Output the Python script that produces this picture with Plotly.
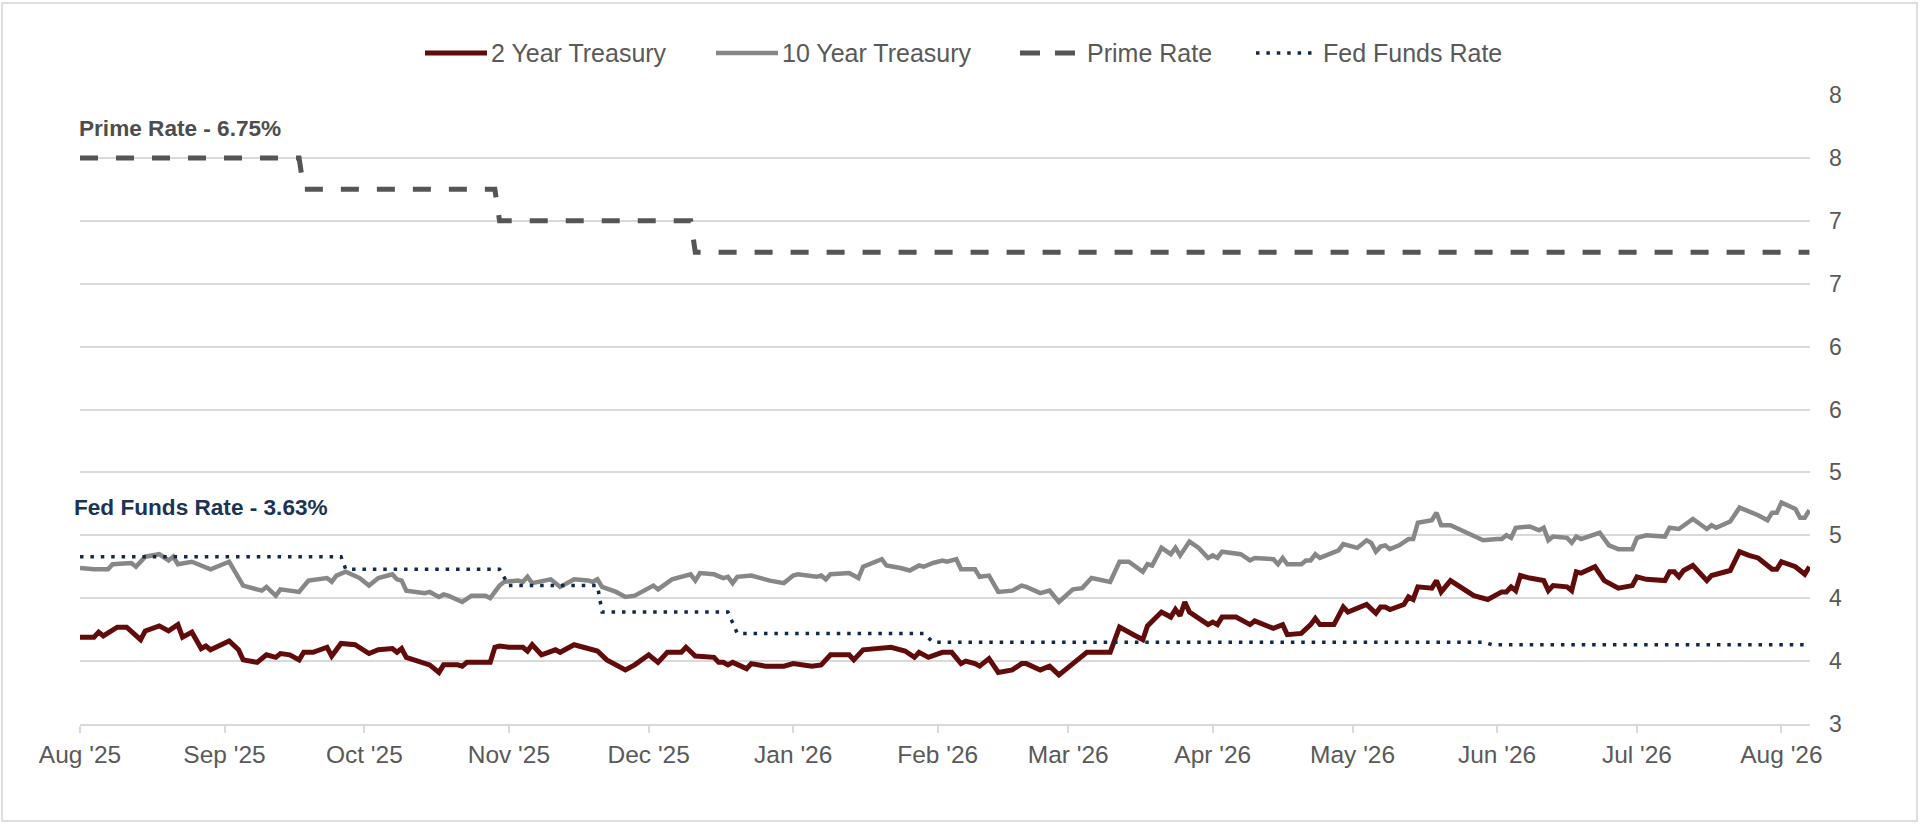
import plotly.graph_objects as go

# ---- data ----
two_year_dates = [
    "2025-08-01", "2025-08-04", "2025-08-05", "2025-08-06", "2025-08-09", "2025-08-11", "2025-08-14",
    "2025-08-15", "2025-08-18", "2025-08-20", "2025-08-22", "2025-08-23", "2025-08-25", "2025-08-27",
    "2025-08-28", "2025-08-29", "2025-09-02", "2025-09-04", "2025-09-05", "2025-09-08", "2025-09-10",
    "2025-09-12", "2025-09-13", "2025-09-15", "2025-09-17", "2025-09-18", "2025-09-20", "2025-09-23",
    "2025-09-24", "2025-09-26", "2025-09-29", "2025-10-02", "2025-10-04", "2025-10-07", "2025-10-08",
    "2025-10-09", "2025-10-10", "2025-10-15", "2025-10-17", "2025-10-18", "2025-10-21", "2025-10-22",
    "2025-10-23", "2025-10-28", "2025-10-29", "2025-10-30", "2025-11-01", "2025-11-04", "2025-11-05",
    "2025-11-06", "2025-11-08", "2025-11-11", "2025-11-12", "2025-11-15", "2025-11-17", "2025-11-20",
    "2025-11-22", "2025-11-24", "2025-11-26", "2025-11-28", "2025-12-01", "2025-12-03", "2025-12-05",
    "2025-12-08", "2025-12-09", "2025-12-11", "2025-12-15", "2025-12-16", "2025-12-17", "2025-12-18",
    "2025-12-19", "2025-12-22", "2025-12-23", "2025-12-26", "2025-12-30", "2026-01-01", "2026-01-04",
    "2026-01-05", "2026-01-07", "2026-01-09", "2026-01-13", "2026-01-14", "2026-01-16", "2026-01-22",
    "2026-01-25", "2026-01-27", "2026-01-28", "2026-01-30", "2026-02-02", "2026-02-03", "2026-02-04",
    "2026-02-06", "2026-02-07", "2026-02-09", "2026-02-10", "2026-02-12", "2026-02-14", "2026-02-17",
    "2026-02-19", "2026-02-20", "2026-02-23", "2026-02-25", "2026-02-27", "2026-03-02", "2026-03-05",
    "2026-03-10", "2026-03-12", "2026-03-15", "2026-03-17", "2026-03-18", "2026-03-21", "2026-03-23",
    "2026-03-24", "2026-03-25", "2026-03-26", "2026-03-27", "2026-03-31", "2026-04-01", "2026-04-02",
    "2026-04-03", "2026-04-06", "2026-04-09", "2026-04-10", "2026-04-14", "2026-04-16", "2026-04-17",
    "2026-04-20", "2026-04-22", "2026-04-23", "2026-04-24", "2026-04-27", "2026-04-29", "2026-04-30",
    "2026-05-04", "2026-05-06", "2026-05-07", "2026-05-08", "2026-05-09", "2026-05-12", "2026-05-13",
    "2026-05-14", "2026-05-15", "2026-05-18", "2026-05-19", "2026-05-20", "2026-05-22", "2026-05-27",
    "2026-05-30", "2026-06-02", "2026-06-03", "2026-06-04", "2026-06-05", "2026-06-06", "2026-06-08",
    "2026-06-10", "2026-06-11", "2026-06-12", "2026-06-13", "2026-06-16", "2026-06-17", "2026-06-18",
    "2026-06-19", "2026-06-22", "2026-06-24", "2026-06-27", "2026-06-30", "2026-07-01", "2026-07-03",
    "2026-07-07", "2026-07-08", "2026-07-09", "2026-07-10", "2026-07-11", "2026-07-13", "2026-07-16",
    "2026-07-17", "2026-07-21", "2026-07-23", "2026-07-25", "2026-07-27", "2026-07-30", "2026-07-31",
    "2026-08-01", "2026-08-04", "2026-08-06", "2026-08-07",
]
two_year_rates = [
    3.69, 3.69, 3.73, 3.70, 3.77, 3.77, 3.67,
    3.74, 3.78, 3.74, 3.79, 3.69, 3.73, 3.60,
    3.62, 3.59, 3.66, 3.59, 3.51, 3.49, 3.55,
    3.53, 3.56, 3.55, 3.51, 3.57, 3.57, 3.61,
    3.54, 3.64, 3.63, 3.56, 3.59, 3.60, 3.57,
    3.60, 3.53, 3.47, 3.41, 3.47, 3.47, 3.46,
    3.49, 3.49, 3.61, 3.62, 3.61, 3.61, 3.58,
    3.63, 3.55, 3.59, 3.57, 3.63, 3.61, 3.58,
    3.51, 3.47, 3.43, 3.47, 3.55, 3.49, 3.57,
    3.57, 3.61, 3.54, 3.53, 3.49, 3.49, 3.47,
    3.49, 3.44, 3.48, 3.46, 3.46, 3.48, 3.47,
    3.46, 3.47, 3.55, 3.55, 3.51, 3.59, 3.61,
    3.58, 3.53, 3.57, 3.53, 3.57, 3.57, 3.57,
    3.48, 3.50, 3.48, 3.46, 3.52, 3.41, 3.43,
    3.48, 3.48, 3.43, 3.46, 3.39, 3.48, 3.57,
    3.57, 3.77, 3.71, 3.67, 3.78, 3.89, 3.85,
    3.91, 3.86, 3.97, 3.89, 3.79, 3.81, 3.79,
    3.85, 3.85, 3.79, 3.82, 3.76, 3.79, 3.71,
    3.72, 3.79, 3.84, 3.79, 3.79, 3.93, 3.89,
    3.95, 3.88, 3.93, 3.93, 3.91, 3.95, 4.01,
    3.99, 4.09, 4.08, 4.14, 4.05, 4.14, 4.02,
    3.99, 4.05, 4.05, 4.09, 4.06, 4.18, 4.16,
    4.14, 4.14, 4.06, 4.10, 4.09, 4.06, 4.21,
    4.20, 4.25, 4.14, 4.08, 4.10, 4.17, 4.15,
    4.14, 4.21, 4.21, 4.17, 4.22, 4.26, 4.14,
    4.18, 4.22, 4.37, 4.34, 4.32, 4.23, 4.23,
    4.29, 4.25, 4.19, 4.25,
]

ten_year_dates = [
    "2025-08-01", "2025-08-04", "2025-08-07", "2025-08-08", "2025-08-12", "2025-08-13", "2025-08-15",
    "2025-08-18", "2025-08-20", "2025-08-21", "2025-08-22", "2025-08-25", "2025-08-29", "2025-09-02",
    "2025-09-05", "2025-09-09", "2025-09-10", "2025-09-12", "2025-09-13", "2025-09-16", "2025-09-17",
    "2025-09-19", "2025-09-23", "2025-09-24", "2025-09-25", "2025-09-27", "2025-09-29", "2025-09-30",
    "2025-10-02", "2025-10-04", "2025-10-07", "2025-10-08", "2025-10-09", "2025-10-10", "2025-10-14",
    "2025-10-15", "2025-10-17", "2025-10-18", "2025-10-19", "2025-10-22", "2025-10-24", "2025-10-27",
    "2025-10-28", "2025-10-30", "2025-10-31", "2025-11-03", "2025-11-04", "2025-11-05", "2025-11-06",
    "2025-11-10", "2025-11-12", "2025-11-15", "2025-11-18", "2025-11-19", "2025-11-20", "2025-11-21",
    "2025-11-24", "2025-11-26", "2025-11-28", "2025-11-30", "2025-12-02", "2025-12-03", "2025-12-06",
    "2025-12-10", "2025-12-11", "2025-12-12", "2025-12-15", "2025-12-17", "2025-12-18", "2025-12-19",
    "2025-12-20", "2025-12-23", "2025-12-25", "2025-12-27", "2025-12-30", "2026-01-01", "2026-01-02",
    "2026-01-06", "2026-01-07", "2026-01-08", "2026-01-09", "2026-01-13", "2026-01-15", "2026-01-16",
    "2026-01-20", "2026-01-21", "2026-01-24", "2026-01-26", "2026-01-28", "2026-01-29", "2026-01-31",
    "2026-02-02", "2026-02-03", "2026-02-05", "2026-02-06", "2026-02-09", "2026-02-10", "2026-02-12",
    "2026-02-14", "2026-02-17", "2026-02-19", "2026-02-20", "2026-02-23", "2026-02-25", "2026-02-27",
    "2026-03-02", "2026-03-04", "2026-03-06", "2026-03-10", "2026-03-12", "2026-03-14", "2026-03-17",
    "2026-03-18", "2026-03-19", "2026-03-21", "2026-03-23", "2026-03-24", "2026-03-25", "2026-03-27",
    "2026-03-29", "2026-03-31", "2026-04-01", "2026-04-02", "2026-04-03", "2026-04-07", "2026-04-09",
    "2026-04-10", "2026-04-14", "2026-04-15", "2026-04-16", "2026-04-17", "2026-04-20", "2026-04-21",
    "2026-04-22", "2026-04-23", "2026-04-24", "2026-04-28", "2026-04-29", "2026-05-02", "2026-05-04",
    "2026-05-05", "2026-05-06", "2026-05-07", "2026-05-08", "2026-05-09", "2026-05-11", "2026-05-13",
    "2026-05-14", "2026-05-15", "2026-05-18", "2026-05-19", "2026-05-20", "2026-05-22", "2026-05-26",
    "2026-05-29", "2026-06-01", "2026-06-02", "2026-06-03", "2026-06-04", "2026-06-05", "2026-06-08",
    "2026-06-10", "2026-06-11", "2026-06-12", "2026-06-13", "2026-06-16", "2026-06-17", "2026-06-18",
    "2026-06-19", "2026-06-23", "2026-06-25", "2026-06-27", "2026-06-30", "2026-07-01", "2026-07-03",
    "2026-07-07", "2026-07-08", "2026-07-10", "2026-07-13", "2026-07-16", "2026-07-17", "2026-07-18",
    "2026-07-21", "2026-07-23", "2026-07-27", "2026-07-29", "2026-07-30", "2026-07-31", "2026-08-01",
    "2026-08-04", "2026-08-05", "2026-08-06", "2026-08-07",
]
ten_year_rates = [
    4.24, 4.23, 4.23, 4.27, 4.28, 4.25, 4.33,
    4.35, 4.30, 4.33, 4.27, 4.29, 4.23, 4.29,
    4.10, 4.06, 4.09, 4.02, 4.07, 4.06, 4.05,
    4.14, 4.16, 4.13, 4.18, 4.21, 4.17, 4.16,
    4.10, 4.16, 4.19, 4.15, 4.14, 4.06, 4.04,
    4.05, 4.01, 4.03, 4.02, 3.97, 4.02, 4.02,
    4.00, 4.10, 4.13, 4.14, 4.13, 4.17, 4.12,
    4.15, 4.09, 4.15, 4.14, 4.13, 4.15, 4.09,
    4.05, 4.01, 4.02, 4.06, 4.10, 4.07, 4.15,
    4.19, 4.14, 4.20, 4.19, 4.16, 4.17, 4.12,
    4.17, 4.18, 4.16, 4.14, 4.12, 4.18, 4.19,
    4.17, 4.18, 4.15, 4.19, 4.20, 4.16, 4.25,
    4.31, 4.26, 4.24, 4.22, 4.26, 4.25, 4.28,
    4.30, 4.29, 4.31, 4.23, 4.23, 4.17, 4.18,
    4.05, 4.06, 4.10, 4.09, 4.04, 4.06, 3.97,
    4.07, 4.08, 4.16, 4.13, 4.29, 4.29, 4.21,
    4.27, 4.26, 4.40, 4.35, 4.40, 4.34, 4.45,
    4.40, 4.32, 4.34, 4.32, 4.37, 4.35, 4.30,
    4.32, 4.31, 4.27, 4.32, 4.27, 4.27, 4.30,
    4.30, 4.35, 4.32, 4.38, 4.43, 4.40, 4.46,
    4.44, 4.37, 4.41, 4.42, 4.39, 4.42, 4.47,
    4.47, 4.60, 4.62, 4.68, 4.58, 4.58, 4.51,
    4.46, 4.47, 4.47, 4.50, 4.48, 4.56, 4.57,
    4.54, 4.56, 4.46, 4.49, 4.48, 4.44, 4.49,
    4.47, 4.52, 4.42, 4.39, 4.39, 4.48, 4.50,
    4.49, 4.56, 4.55, 4.63, 4.55, 4.58, 4.56,
    4.61, 4.72, 4.66, 4.62, 4.68, 4.68, 4.76,
    4.71, 4.64, 4.64, 4.70,
]

prime_dates = ["2025-08-01", "2025-09-17", "2025-09-18", "2025-10-29", "2025-10-30",
               "2025-12-10", "2025-12-11", "2026-08-07"]
prime_rates = [7.50, 7.50, 7.25, 7.25, 7.00, 7.00, 6.75, 6.75]

fed_dates = ["2025-08-01", "2025-09-26", "2025-09-27", "2025-10-30", "2025-11-01", "2025-11-20",
             "2025-11-21", "2025-12-18", "2025-12-20", "2026-01-29", "2026-01-31", "2026-05-29",
             "2026-05-31", "2026-08-06"]
fed_rates = [4.33, 4.33, 4.23, 4.23, 4.10, 4.10, 3.89, 3.89, 3.72, 3.72, 3.65, 3.65, 3.63, 3.63]

y_tick_values = [3.0, 3.5, 4.0, 4.5, 5.0, 5.5, 6.0, 6.5, 7.0, 7.5, 8.0]
y_tick_labels = ["3", "4", "4", "5", "5", "6", "6", "7", "7", "8", "8"]

# ---- styling ----
W, H = 1920, 825
ML, MR, MT, MB = 80, 110, 95, 101
FONT = "Liberation Sans, Arial, sans-serif"
TEXT = "#595959"
GRID = "#d9d9d9"
MAROON = "#620b0b"
GRAY = "#878787"
PRIME = "#555555"
NAVY = "#13294a"

PRIME_DASH = "18px,18px"
FED_DOT = "3.5px,6.9px"


def px_x(p):
    # pixel -> paper coordinate (horizontal)
    return (p - ML) / (W - ML - MR)


def px_y(p):
    # pixel -> paper coordinate (vertical)
    return (H - MB - p) / (H - MT - MB)


fig = go.Figure()
fig.add_trace(go.Scatter(x=two_year_dates, y=two_year_rates, mode="lines", name="2 Year Treasury",
                         line=dict(color=MAROON, width=5)))
fig.add_trace(go.Scatter(x=ten_year_dates, y=ten_year_rates, mode="lines", name="10 Year Treasury",
                         line=dict(color=GRAY, width=4.5)))
fig.add_trace(go.Scatter(x=prime_dates, y=prime_rates, mode="lines", name="Prime Rate",
                         line=dict(color=PRIME, width=5, dash=PRIME_DASH)))
fig.add_trace(go.Scatter(x=fed_dates, y=fed_rates, mode="lines", name="Fed Funds Rate",
                         line=dict(color=NAVY, width=3.5, dash=FED_DOT)))

# hand-built legend so the sample lines are as long as in the original
legend_items = [
    ("2 Year Treasury", MAROON, 5, "solid", 425, 487, 489),
    ("10 Year Treasury", GRAY, 4.5, "solid", 716, 778, 780),
    ("Prime Rate", PRIME, 5, "20px,15px", 1020, 1076, 1085),
    ("Fed Funds Rate", NAVY, 3.5, "3.5px,6.9px", 1256, 1313, 1321),
]
shapes = []
annotations = []
legend_y = 53
for label, color, width, dash, x0, x1, tx in legend_items:
    shapes.append(dict(type="line", xref="paper", yref="paper",
                       x0=px_x(x0), x1=px_x(x1), y0=px_y(legend_y), y1=px_y(legend_y),
                       line=dict(color=color, width=width, dash=dash)))
    annotations.append(dict(text=label, xref="paper", yref="paper", x=px_x(tx), y=px_y(legend_y),
                            xanchor="left", yanchor="middle", showarrow=False,
                            font=dict(family=FONT, size=25, color=TEXT)))

# outer frame
shapes.append(dict(type="rect", xref="paper", yref="paper", layer="below",
                   x0=px_x(2), x1=px_x(1917), y0=px_y(821), y1=px_y(3),
                   line=dict(color="#dedede", width=2)))

annotations.append(dict(text="<b>Prime Rate - 6.75%</b>", xref="x", yref="y",
                        x=prime_dates[0], y=7.73, xanchor="left", yanchor="middle", xshift=-3,
                        showarrow=False, font=dict(family=FONT, size=22.6, color="#4d4d4d")))
annotations.append(dict(text="<b>Fed Funds Rate - 3.63%</b>", xref="x", yref="y",
                        x=fed_dates[0], y=4.72, xanchor="left", yanchor="middle", xshift=-8,
                        showarrow=False, font=dict(family=FONT, size=22.6, color="#1c3352")))

fig.update_layout(
    width=W, height=H,
    margin=dict(l=ML, r=MR, t=MT, b=MB),
    paper_bgcolor="white", plot_bgcolor="white",
    showlegend=False,
    font=dict(family=FONT, color=TEXT),
    shapes=shapes,
    annotations=annotations,
)
fig.update_xaxes(
    type="date", range=["2025-08-01", "2026-08-07 03:00"],
    tick0="2025-08-01", dtick="M1", tickformat="%b '%y",
    ticks="outside", ticklen=7, tickwidth=1.5, tickcolor=GRID,
    showline=True, linecolor=GRID, linewidth=1.5,
    showgrid=False, zeroline=False,
    tickfont=dict(family=FONT, size=24.5, color=TEXT),
    ticklabelstandoff=1,
)
fig.update_yaxes(
    range=[3, 8], side="right",
    tickvals=y_tick_values, ticktext=y_tick_labels,
    showgrid=True, gridcolor=GRID, gridwidth=1.5,
    zeroline=False, showline=False, ticks="",
    tickfont=dict(family=FONT, size=23, color=TEXT),
    ticklabelstandoff=18,
)

# the page should start at the very corner of the window, like the original picture
fig.write_html("out.html", config={"displayModeBar": False},
               post_script="document.body.style.margin='0';document.body.style.overflow='hidden';")
